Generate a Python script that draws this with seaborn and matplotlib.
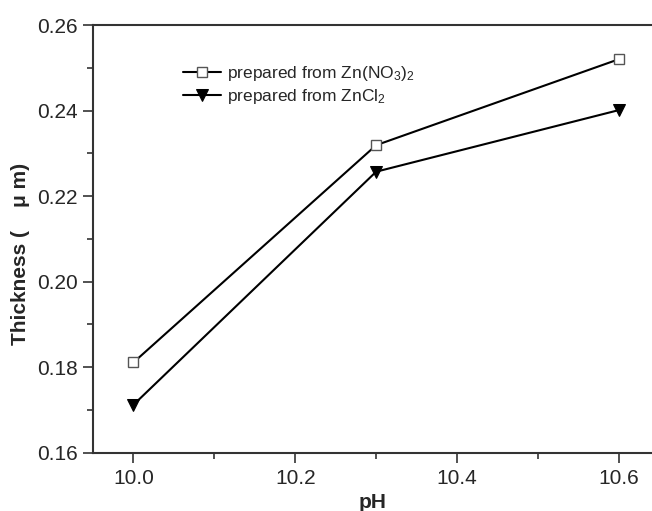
import matplotlib
matplotlib.use("Agg")
import matplotlib.pyplot as plt
import seaborn as sns
import pandas as pd
from matplotlib.ticker import MultipleLocator

ph = [10.0, 10.3, 10.6]
thick_nitrate = [0.1811, 0.2319, 0.2520]
thick_chloride = [0.1712, 0.2257, 0.2401]
label_nitrate = "prepared from Zn(NO$_3$)$_2$"
label_chloride = "prepared from ZnCl$_2$"

sns.set_style("ticks")
plt.rcParams['font.family'] = ['Liberation Sans', 'DejaVu Sans']
plt.rcParams['mathtext.fontset'] = 'custom'
plt.rcParams['mathtext.rm'] = 'Liberation Sans'
plt.rcParams['mathtext.default'] = 'regular'

df_n = pd.DataFrame({"pH": ph, "Thickness": thick_nitrate})
df_c = pd.DataFrame({"pH": ph, "Thickness": thick_chloride})

fig = plt.figure(figsize=(6.52, 5.11), dpi=100)
ax = fig.add_axes([93/652, 1-452.7/511, 1-93/652, (452.7-25)/511])

sns.lineplot(data=df_n, x="pH", y="Thickness", ax=ax, color="black", lw=1.5,
             marker="s", markersize=6.5, markerfacecolor="white",
             markeredgecolor="#555555", markeredgewidth=1.0, label=label_nitrate)
sns.lineplot(data=df_c, x="pH", y="Thickness", ax=ax, color="black", lw=1.5,
             marker="v", markersize=9, markerfacecolor="black",
             markeredgecolor="black", label=label_chloride)

ax.set_xlim(9.95, 10.641)
ax.set_ylim(0.16, 0.26)
ax.xaxis.set_major_locator(MultipleLocator(0.2))
ax.xaxis.set_minor_locator(MultipleLocator(0.1))
ax.yaxis.set_major_locator(MultipleLocator(0.02))
ax.yaxis.set_minor_locator(MultipleLocator(0.01))
ax.xaxis.set_major_formatter(matplotlib.ticker.FormatStrFormatter('%.1f'))
ax.yaxis.set_major_formatter(matplotlib.ticker.FormatStrFormatter('%.2f'))

for s in ['left', 'bottom', 'top']:
    ax.spines[s].set_linewidth(1.5)
    ax.spines[s].set_color('#333333')
ax.spines['right'].set_visible(False)
ax.tick_params(which='major', direction='out', length=7, width=1.2, color='#333333',
               labelsize=15, pad=4, top=False, right=False)
ax.tick_params(which='minor', direction='out', length=4, width=1.2, color='#333333',
               top=False, right=False)
ax.tick_params(axis='x', which='major', pad=5)

ax.set_xlabel("pH", fontsize=15, fontweight='bold')
ax.xaxis.set_label_coords(0.5, -0.095)
ax.xaxis.label.set_va('top')
ax.set_ylabel("Thickness (    \u03bc m)", fontsize=15, fontweight='bold', labelpad=8)
ax.yaxis.set_label_coords(-0.112, 0.465)

leg = ax.legend(loc='upper left', bbox_to_anchor=(0.148, 0.925), frameon=False,
                fontsize=12.5, handlelength=2.2, handletextpad=0.35, labelspacing=0.25,
                borderaxespad=0)

fig.savefig("out.png", dpi=100)
